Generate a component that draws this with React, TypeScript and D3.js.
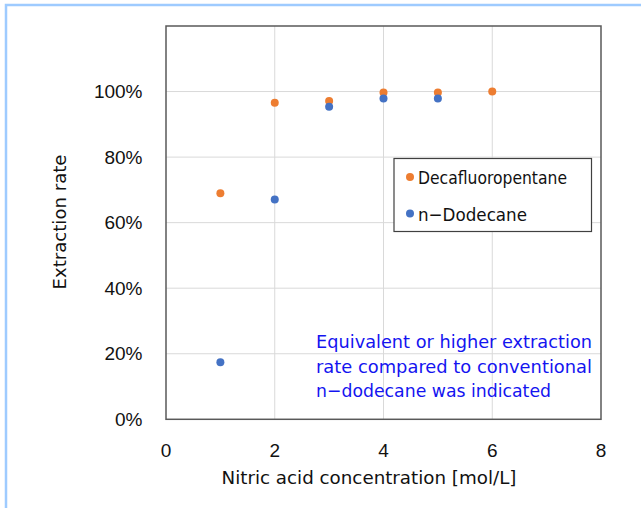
import React, { useEffect, useRef } from 'react';
import * as d3 from 'd3';

const concentrations = [1, 2, 3, 4, 5, 6];
const decafluoropentane = [0.69, 0.966, 0.971, 0.997, 0.997, 1.0];
const dodecaneConc = [1, 2, 3, 4, 5];
const dodecane = [0.174, 0.671, 0.954, 0.979, 0.979];
const xTicks = [0, 2, 4, 6, 8];
const yTicks = [0, 0.2, 0.4, 0.6, 0.8, 1.0];
const seriesNames = ['Decafluoropentane', 'n\u2212Dodecane'];
const noteLines = [
  'Equivalent or higher extraction',
  'rate compared to conventional',
  'n\u2212dodecane was indicated',
];

const W = 641, H = 508;
const ORANGE = '#ED7D31', BLUE = '#4472C4';
const FONT = '"DejaVu Sans", sans-serif';
const TICKFONT = '"Liberation Sans Narrow", "Liberation Sans", Arial, sans-serif';

const App = () => {
  const ref = useRef<SVGSVGElement>(null);

  useEffect(() => {
    const svg = d3.select(ref.current);
    svg.selectAll('*').remove();

    const x = d3.scaleLinear().domain([0, 8]).range([166, 601]);
    const y = d3.scaleLinear().domain([0, 1.2]).range([419.3, 26]);

    // light blue frame
    svg.append('rect').attr('x', 6).attr('y', 5).attr('width', W).attr('height', H)
      .attr('fill', 'none').attr('stroke', '#9ecbff').attr('stroke-width', 2.5);

    // grid
    const grid = svg.append('g').attr('stroke', '#d9d9d9').attr('stroke-width', 1);
    grid.selectAll('line.v').data(xTicks.slice(1, -1)).enter().append('line')
      .attr('x1', d => x(d)).attr('x2', d => x(d)).attr('y1', y(1.2)).attr('y2', y(0));
    grid.selectAll('line.h').data([...yTicks.slice(1)]).enter().append('line')
      .attr('x1', x(0)).attr('x2', x(8)).attr('y1', d => y(d)).attr('y2', d => y(d));

    // plot frame
    svg.append('rect').attr('x', x(0)).attr('y', y(1.2))
      .attr('width', x(8) - x(0)).attr('height', y(0) - y(1.2))
      .attr('fill', 'none').attr('stroke', '#595959').attr('stroke-width', 1.5);

    // tick labels
    svg.append('g').selectAll('text').data(xTicks).enter().append('text')
      .attr('x', d => x(d)).attr('y', 450).attr('dy', '0.35em').attr('text-anchor', 'middle')
      .attr('font-family', TICKFONT).attr('font-size', 19).attr('fill', '#111')
      .text(d => d3.format('d')(d));
    svg.append('g').selectAll('text').data(yTicks).enter().append('text')
      .attr('x', 142.5).attr('y', d => y(d)).attr('dy', '0.35em').attr('text-anchor', 'end')
      .attr('font-family', TICKFONT).attr('font-size', 19).attr('fill', '#111')
      .text(d => d3.format('.0%')(d));

    // axis titles
    svg.append('text').attr('x', 369).attr('y', 478).attr('dy', '0.35em').attr('text-anchor', 'middle')
      .attr('font-family', FONT).attr('font-size', 17).attr('fill', '#111')
      .attr('textLength', 295).attr('lengthAdjust', 'spacingAndGlyphs')
      .text('Nitric acid concentration [mol/L]');
    svg.append('text').attr('transform', 'translate(60,222) rotate(-90)').attr('dy', '0.35em')
      .attr('text-anchor', 'middle').attr('fill', '#111')
      .attr('font-family', FONT).attr('font-size', 17)
      .attr('textLength', 135).attr('lengthAdjust', 'spacingAndGlyphs')
      .text('Extraction rate');

    // points
    svg.append('g').selectAll('circle').data(concentrations).enter().append('circle')
      .attr('cx', d => x(d)).attr('cy', (d, i) => y(decafluoropentane[i])).attr('r', 4)
      .attr('fill', ORANGE);
    svg.append('g').selectAll('circle').data(dodecaneConc).enter().append('circle')
      .attr('cx', d => x(d)).attr('cy', (d, i) => y(dodecane[i])).attr('r', 4)
      .attr('fill', BLUE);

    // legend
    const lg = svg.append('g');
    lg.append('rect').attr('x', 394).attr('y', 158.5).attr('width', 197.5).attr('height', 73)
      .attr('fill', '#fff').attr('stroke', '#404040').attr('stroke-width', 1.2);
    const legendLens = [149, 109];
    [ORANGE, BLUE].forEach((c, i) => {
      const cy = 177 + i * 36.5;
      lg.append('circle').attr('cx', 410).attr('cy', cy).attr('r', 4).attr('fill', c);
      lg.append('text').attr('x', 418).attr('y', cy + 1).attr('dy', '0.35em')
        .attr('font-family', FONT).attr('font-size', 18).attr('fill', '#111')
        .attr('textLength', legendLens[i]).attr('lengthAdjust', 'spacingAndGlyphs')
        .text(seriesNames[i]);
    });

    // annotation
    const noteLens = [276, 276, 235];
    svg.append('g').selectAll('text').data(noteLines).enter().append('text')
      .attr('x', 316).attr('y', (d, i) => 342 + i * 24.5).attr('dy', '0.35em')
      .attr('font-family', FONT).attr('font-size', 18).attr('fill', '#1414f0')
      .attr('textLength', (d, i) => noteLens[i]).attr('lengthAdjust', 'spacingAndGlyphs')
      .text(d => d);
  }, []);

  return (
    <svg ref={ref} width={W} height={H}
      style={{ position: 'absolute', left: 0, top: 0, background: '#fff' }} />
  );
};

export default App;
